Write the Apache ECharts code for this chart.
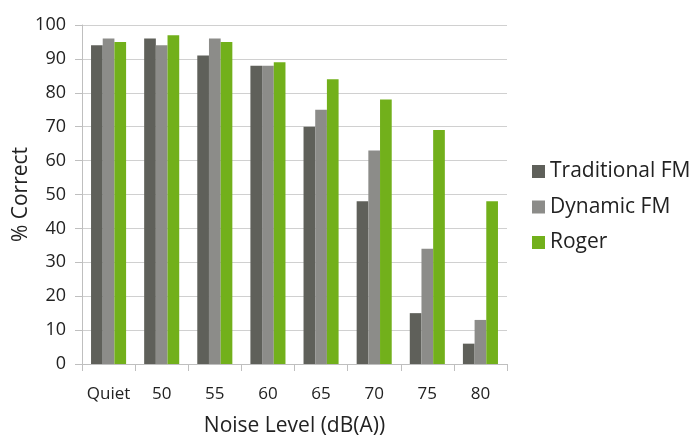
<!DOCTYPE html>
<html><head><meta charset="utf-8">
<script src="https://cdn.jsdelivr.net/npm/echarts@6/dist/echarts.min.js"></script>
<style>html,body{margin:0;padding:0;background:#fff}#c{width:693px;height:436px}</style>
</head><body><div id="c"></div>
<script>
const categories = ['Quiet','50','55','60','65','70','75','80'];
const traditionalFM = [94, 96, 91, 88, 70, 48, 15, 6];
const dynamicFM = [96, 94, 96, 88, 75, 63, 34, 13];
const roger = [95, 97, 95, 89, 84, 78, 69, 48];
const seriesNames = ['Traditional FM','Dynamic FM','Roger'];
const colors = ['#5f605a','#8c8c89','#72b01b'];
const font = '"Open Sans", "DejaVu Sans", sans-serif';
const chart = echarts.init(document.getElementById('c'));
chart.setOption({
  animation:false,
  color: colors,
  grid:{left:82,right:186,top:25,bottom:72,containLabel:false,outerBoundsMode:'none'},
  legend:{
    orient:'vertical', left:527, top:156, itemWidth:13, itemHeight:13, itemGap:14.5,
    icon:'rect',
    textStyle:{fontFamily:font, fontSize:21, color:'#222'},
    data: seriesNames
  },
  xAxis:{
    type:'category', data:categories,
    name:'Noise Level (dB(A))', nameLocation:'middle', nameGap:52, nameMoveOverlap:false,
    nameTextStyle:{fontFamily:font, fontSize:21, color:'#222'},
    axisLine:{lineStyle:{color:'#bfbfbf'}},
    axisTick:{show:true, length:7, lineStyle:{color:'#bfbfbf'}},
    axisLabel:{interval:0, fontFamily:font, fontSize:17, color:'#222', margin:22}
  },
  yAxis:{
    type:'value', min:0, max:100, interval:10,
    name:'% Correct', nameLocation:'middle', nameGap:50, nameMoveOverlap:false,
    nameTextStyle:{fontFamily:font, fontSize:21, color:'#222'},
    axisLine:{show:true, lineStyle:{color:'#bfbfbf'}},
    axisTick:{show:true, length:7, lineStyle:{color:'#bfbfbf'}},
    splitLine:{lineStyle:{color:'#d0d0d0'}},
    axisLabel:{fontFamily:font, fontSize:18, color:'#222', margin:16}
  },
  series:[
    {name:seriesNames[0], type:'bar', data:traditionalFM, barGap:'0%', barCategoryGap:'34%'},
    {name:seriesNames[1], type:'bar', data:dynamicFM, barGap:'0%', barCategoryGap:'34%'},
    {name:seriesNames[2], type:'bar', data:roger, barGap:'0%', barCategoryGap:'34%'}
  ]
});
</script></body></html>
